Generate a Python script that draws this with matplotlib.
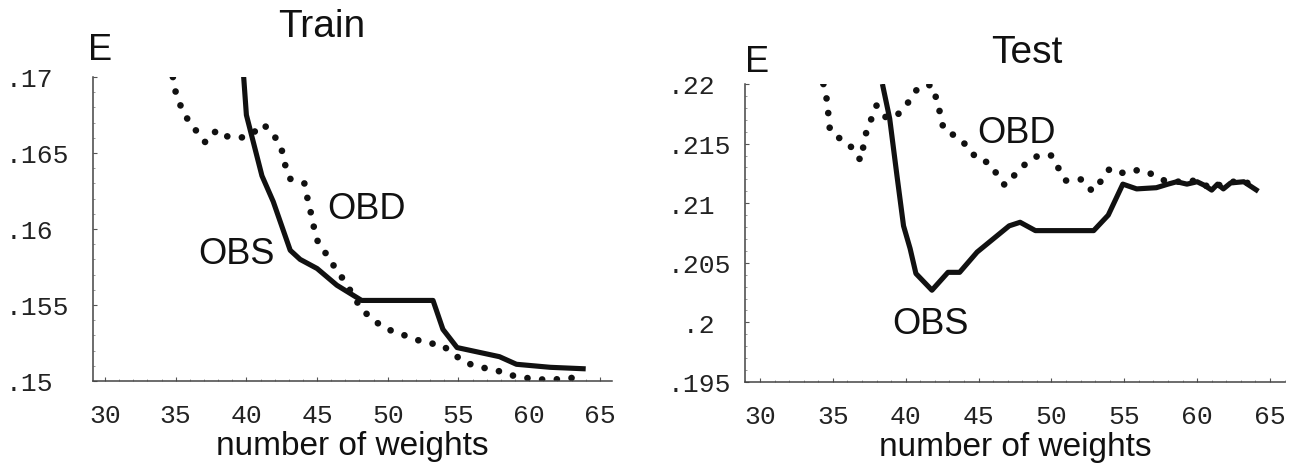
import matplotlib
matplotlib.use("Agg")
import matplotlib.pyplot as plt
from matplotlib.ticker import FixedLocator, MultipleLocator

# ---- data -------------------------------------------------------------
train_obs_w = [39.8, 40.0, 41.1, 41.9, 43.1, 43.8, 45.0, 46.4, 48.15, 53.2,
               53.9, 54.9, 57.9, 59.1, 61.5, 64.0]
train_obs_e = [0.1701, 0.1675, 0.1635, 0.1618, 0.1586, 0.1580, 0.1574, 0.1563,
               0.1553, 0.1553, 0.1534, 0.1522, 0.1516, 0.1511, 0.1509, 0.1508]

train_obd_w = [34.8, 35.0, 35.3, 35.85, 36.5, 37.1, 37.9, 38.6, 39.5, 40.2,
               41.2, 42.0, 42.5, 42.75, 43.1, 44.1, 44.3, 44.55, 44.8, 45.1,
               45.7, 46.3, 47.0, 48.15, 48.9, 49.7, 50.6, 51.8, 52.7, 53.8,
               54.6, 55.5, 56.6, 57.7, 58.6, 59.8, 60.8, 61.8, 63.0]
train_obd_e = [0.1700, 0.1690, 0.1682, 0.1672, 0.1664, 0.1657, 0.1665, 0.1661,
               0.1660, 0.1661, 0.1669, 0.1661, 0.1652, 0.1642, 0.1633, 0.1630,
               0.1621, 0.1611, 0.1600, 0.1590, 0.1583, 0.1574, 0.1565, 0.1547,
               0.1541, 0.1535, 0.1532, 0.1528, 0.1525, 0.1524, 0.1518, 0.1512,
               0.1509, 0.1507, 0.1504, 0.1502, 0.1501, 0.1501, 0.1502]

test_obs_w = [38.4, 38.9, 39.4, 39.85, 40.3, 40.7, 41.8, 42.9, 43.7, 44.9,
              45.7, 47.1, 47.85, 48.9, 52.9, 53.9, 54.9, 55.85, 57.2, 58.0,
              58.6, 59.3, 60.0, 60.5, 61.0, 61.4, 61.8, 62.3, 63.2, 64.2]
test_obs_e = [0.2200, 0.2171, 0.2123, 0.2081, 0.2062, 0.2041, 0.2027, 0.2042,
              0.2042, 0.2059, 0.2067, 0.2081, 0.2084, 0.2077, 0.2077, 0.2090,
              0.2116, 0.2112, 0.2113, 0.2116, 0.2118, 0.2116, 0.2118, 0.2115,
              0.2111, 0.2116, 0.2112, 0.2117, 0.2118, 0.2110]

test_obd_w = [34.35, 34.6, 34.8, 35.4, 36.2, 36.9, 37.3, 38.0, 38.7, 39.5,
              40.2, 40.8, 41.3, 41.8, 42.2, 42.6, 43.6, 44.2, 44.9, 45.7,
              46.8, 47.5, 48.3, 49.1, 50.0, 50.5, 51.0, 52.1, 52.8, 53.5,
              54.0, 55.0, 56.0, 57.0, 57.9, 58.6, 60.0, 61.0, 61.8, 63.2, 64.2]
test_obd_e = [0.2200, 0.2186, 0.2161, 0.2155, 0.2148, 0.2136, 0.2160, 0.2182,
              0.2171, 0.2175, 0.2185, 0.2196, 0.2199, 0.2199, 0.2184, 0.2162,
              0.2155, 0.2148, 0.2137, 0.2134, 0.2115, 0.2124, 0.2134, 0.2140,
              0.2140, 0.2129, 0.2119, 0.2120, 0.2110, 0.2120, 0.2129, 0.2125,
              0.2128, 0.2124, 0.2118, 0.2118, 0.2119, 0.2112, 0.2117, 0.2119,
              0.2111]

x_ticks = [30, 35, 40, 45, 50, 55, 60, 65]
train_y_ticks = [0.15, 0.155, 0.16, 0.165, 0.17]
train_y_labels = [".15", ".155", ".16", ".165", ".17"]
test_y_ticks = [0.195, 0.2, 0.205, 0.21, 0.215, 0.22]
test_y_labels = [".195", " .2", ".205", ".21", ".215", ".22"]

# ---- styling ----------------------------------------------------------
SANS = "Liberation Sans"
MONO = "Liberation Mono"
INK = "#111111"
SOLID = dict(color=INK, lw=3.7, solid_capstyle="butt", solid_joinstyle="round")
DOTTED = dict(color=INK, lw=4.8, linestyle=(0, (0.01, 2.2)),
              dash_capstyle="round")

fig = plt.figure(figsize=(12.95, 4.77), dpi=100)
ax_tr = fig.add_axes([93 / 1295, 1 - 382 / 477, 519 / 1295, 304 / 477])
ax_te = fig.add_axes([745 / 1295, 1 - 383 / 477, 540 / 1295, 298 / 477])


def style_axes(ax, xlim, ylim, yticks, ylabels, ypad):
    ax.set_xlim(*xlim)
    ax.set_ylim(*ylim)
    for side in ("top", "right"):
        ax.spines[side].set_visible(False)
    for side in ("left", "bottom"):
        ax.spines[side].set_linewidth(1.1)
        ax.spines[side].set_color("#444444")
    ax.xaxis.set_major_locator(FixedLocator(x_ticks))
    ax.set_xticklabels([str(t) for t in x_ticks], fontfamily=MONO,
                       fontsize=19, color="#222222")
    ax.yaxis.set_major_locator(FixedLocator(yticks))
    ax.set_yticklabels(ylabels, fontfamily=MONO, fontsize=19, color="#222222")
    ax.xaxis.set_minor_locator(MultipleLocator(1))
    ax.yaxis.set_minor_locator(MultipleLocator(0.001))
    ax.tick_params(axis="both", which="major", direction="in", length=3,
                   width=0.8, color="#555555")
    ax.tick_params(axis="both", which="minor", direction="in", length=1.5,
                   width=0.6, color="#888888")
    ax.tick_params(axis="x", which="major", pad=16)
    ax.tick_params(axis="y", which="major", pad=ypad)
    for lbl in ax.get_yticklabels():
        lbl.set_horizontalalignment("left")
    ax.set_xlabel("number of weights", fontfamily=SANS, fontsize=24,
                  labelpad=2, color=INK)


style_axes(ax_tr, (29.15, 65.86), (0.15, 0.17), train_y_ticks,
           train_y_labels, 63)
style_axes(ax_te, (28.97, 66.03), (0.195, 0.22), test_y_ticks,
           test_y_labels, 56)

# ---- curves -----------------------------------------------------------
ax_tr.plot(train_obd_w, train_obd_e, **DOTTED)
ax_tr.plot(train_obs_w, train_obs_e, **SOLID)
ax_te.plot(test_obd_w, test_obd_e, **DOTTED)
ax_te.plot(test_obs_w, test_obs_e, **SOLID)

# ---- labels -----------------------------------------------------------
lab = dict(fontfamily=SANS, fontsize=26, color=INK, ha="center", va="center")
ax_tr.text(48.5, 0.16132, "OBD", **lab)
ax_tr.text(39.33, 0.15836, "OBS", **lab)
ax_te.text(47.6, 0.21597, "OBD", **lab)
ax_te.text(41.67, 0.19987, "OBS", **lab)

fig.text(322 / 1295, 1 - 27 / 477, "Train", fontfamily=SANS, fontsize=28,
         ha="center", va="center", color=INK)
fig.text(1027 / 1295, 1 - 53 / 477, "Test", fontfamily=SANS, fontsize=28,
         ha="center", va="center", color=INK)
fig.text(100 / 1295, 1 - 50 / 477, "E", fontfamily=SANS, fontsize=26,
         ha="center", va="center", color=INK)
fig.text(757 / 1295, 1 - 63 / 477, "E", fontfamily=SANS, fontsize=26,
         ha="center", va="center", color=INK)

fig.savefig("out.png", dpi=100, facecolor="white")
